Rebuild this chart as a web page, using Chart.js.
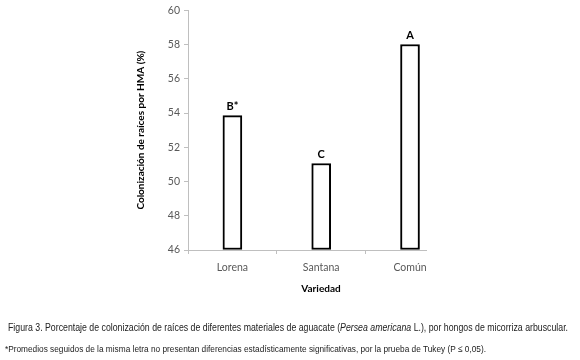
<!DOCTYPE html>
<html>
<head>
<meta charset="utf-8">
<script src="https://cdn.jsdelivr.net/npm/chart.js@4"></script>
<style>
  html, body { margin: 0; padding: 0; background: #fff; }
  #wrap { position: relative; width: 580px; height: 360px; }
  #grafica { position: absolute; left: 0; top: 0; }
  .txt { position: absolute; white-space: nowrap; transform-origin: 0 50%; }
  #xtitulo { left: 321px; top: 288px; transform: translate(-50%, -50%); font: bold 10px Lato, sans-serif; color: #000; }
  .cap { font-family: "Liberation Sans Narrow", "Liberation Sans", Arial, sans-serif; color: #222; }
  #cap1 { left: 8px; top: 321px; font-size: 11px; }
  #cap2 { left: 5px; top: 343px; font-size: 9.5px; }
</style>
</head>
<body>
<div id="wrap">
  <canvas id="grafica" width="580" height="360"></canvas>
  <div class="txt" id="xtitulo">Variedad</div>
  <div class="txt cap" id="cap1">Figura 3. Porcentaje de colonización de raíces de diferentes materiales de aguacate (<i>Persea americana</i> L.), por hongos de micorriza arbuscular.</div>
  <div class="txt cap" id="cap2">*Promedios seguidos de la misma letra no presentan diferencias estadísticamente significativas, por la prueba de Tukey (P ≤ 0,05).</div>
</div>
<script>
// datos
const variedades = ['Lorena', 'Santana', 'Común'];
const colonizacion = [53.85, 51.05, 58.0];
const letras = ['B*', 'C', 'A'];
const yTicks = [46, 48, 50, 52, 54, 56, 58, 60];

// ajustar ancho de las leyendas al de la figura original
function ajustar(idEl, ancho) {
    const el = document.getElementById(idEl);
    const w = el.getBoundingClientRect().width;
    el.style.transform = 'scaleX(' + (ancho / w) + ')';
}
ajustar('cap1', 560);
ajustar('cap2', 481);

const etiquetasBarras = {
    id: 'etiquetasBarras',
    afterDatasetsDraw(chart) {
        const ctx = chart.ctx;
        const meta = chart.getDatasetMeta(0);
        ctx.save();
        ctx.font = 'bold 11px Lato, sans-serif';
        ctx.fillStyle = '#000';
        ctx.textAlign = 'center';
        ctx.textBaseline = 'bottom';
        meta.data.forEach((bar, i) => {
            ctx.fillText(letras[i], bar.x, bar.y - 4);
        });
        ctx.restore();
    }
};

new Chart(document.getElementById('grafica'), {
    type: 'bar',
    data: {
        datasets: [{
            data: colonizacion.map((v, i) => ({ x: i, y: v })),
            backgroundColor: '#ffffff',
            borderColor: '#000000',
            borderWidth: 2,
            borderSkipped: false,
            barThickness: 19,
            base: 46
        }]
    },
    options: {
        responsive: false,
        animation: false,
        layout: { padding: { left: 0, top: 10, right: 154, bottom: 0 } },
        plugins: { legend: { display: false }, tooltip: { enabled: false } },
        scales: {
            x: {
                type: 'linear',
                offset: false,
                min: -0.5,
                max: 2.18,
                afterBuildTicks: (s) => { s.ticks = variedades.map((c, i) => ({ value: i })); },
                afterFit: (s) => { s.height = 110; },
                ticks: {
                    callback: (v) => variedades[v],
                    color: '#595959',
                    font: { family: 'Lato', size: 10.5 },
                    padding: 7,
                    maxRotation: 0,
                    autoSkip: false
                },
                grid: { offset: true, drawOnChartArea: false, tickLength: 4, color: '#bfbfbf' },
                border: { color: '#bfbfbf' }
            },
            y: {
                min: 46,
                max: 60,
                afterBuildTicks: (s) => { s.ticks = yTicks.map(v => ({ value: v })); },
                afterFit: (s) => { s.width = 188; },
                ticks: {
                    color: '#595959',
                    font: { family: 'Lato', size: 10.5 },
                    padding: 4
                },
                grid: { drawOnChartArea: false, tickLength: 4, color: '#bfbfbf' },
                border: { color: '#bfbfbf' },
                title: {
                    display: true,
                    text: 'Colonización de raíces por HMA (%)',
                    color: '#000',
                    font: { family: 'Lato', size: 10, weight: 'bold' },
                    padding: { top: 135, bottom: 0 }
                }
            }
        }
    },
    plugins: [etiquetasBarras]
});
</script>
</body>
</html>
